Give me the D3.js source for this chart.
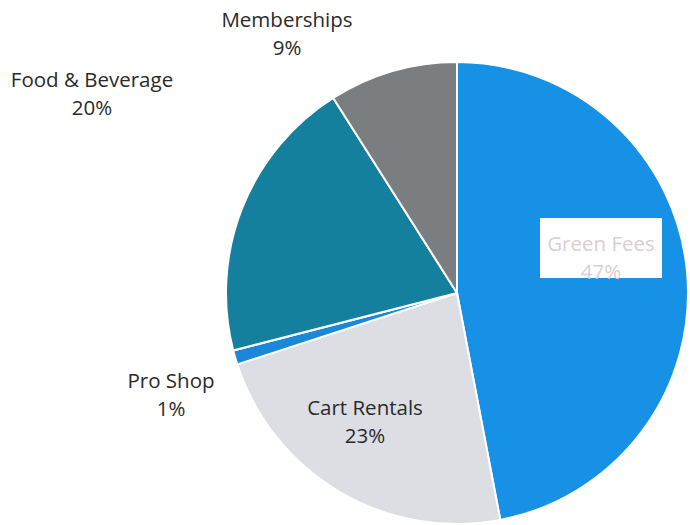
<!DOCTYPE html>
<html>
<head>
<meta charset="utf-8">
<script src="https://cdnjs.cloudflare.com/ajax/libs/d3/7.8.5/d3.min.js"></script>
<style>
  body { margin: 0; background: #fff; }
  svg { display: block; }
  .lbl { font-family: "Open Sans", sans-serif; font-size: 20.5px; fill: #2a2a2a; }
</style>
</head>
<body>
<div id="chart"></div>
<script>
(function() {
  var width = 690,
      height = 525;

  // revenue share by category, clockwise from 12 o'clock
  var categories = ["Green Fees", "Cart Rentals", "Pro Shop", "Food & Beverage", "Memberships"];
  var shares = [47, 23, 1, 20, 9];
  var colors = ["#1791e6", "#dcdee4", "#1a87d9", "#14809e", "#7a7e80"];

  // where the labels sit (outside labels were dragged by hand in the original)
  var labelPos = [[601, 244], [365, 408], [171, 381], [92, 80], [287, 20]];

  var cx = 457, cy = 293, radius = 231;

  var data = categories.map(function(c, i) {
    return {name: c, value: shares[i], color: colors[i], pos: labelPos[i]};
  });

  var svg = d3.select("#chart")
    .append("svg")
      .attr("width", width)
      .attr("height", height);

  var pie = d3.pie()
    .sort(null)
    .value(function(d) { return d.value; });

  var arc = d3.arc()
    .innerRadius(0)
    .outerRadius(radius);

  var g = svg.append("g")
    .attr("transform", "translate(" + cx + "," + cy + ")");

  g.selectAll(".slice")
    .data(pie(data))
    .enter().append("path")
      .attr("class", "slice")
      .attr("d", arc)
      .attr("fill", function(d) { return d.data.color; })
      .attr("stroke", "#fff")
      .attr("stroke-width", 2);

  var labels = svg.selectAll(".lbl")
    .data(data)
    .enter().append("g")
      .attr("transform", function(d) { return "translate(" + d.pos[0] + "," + d.pos[1] + ")"; });

  // the big slice carries its label inside a white box
  labels.filter(function(d, i) { return i === 0; })
    .append("rect")
      .attr("x", -61)
      .attr("y", -26)
      .attr("width", 122)
      .attr("height", 60)
      .attr("fill", "#fff");

  labels.append("text")
    .attr("class", "lbl")
    .attr("text-anchor", "middle")
    .attr("dy", "0.35em")
    .style("fill", function(d, i) { return i === 0 ? "#dccdd3" : null; })
    .text(function(d) { return d.name; });

  labels.append("text")
    .attr("class", "lbl")
    .attr("text-anchor", "middle")
    .attr("y", 28)
    .attr("dy", "0.35em")
    .style("fill", function(d, i) { return i === 0 ? "#dccdd3" : null; })
    .text(function(d) { return d.value + "%"; });
})();
</script>
</body>
</html>
